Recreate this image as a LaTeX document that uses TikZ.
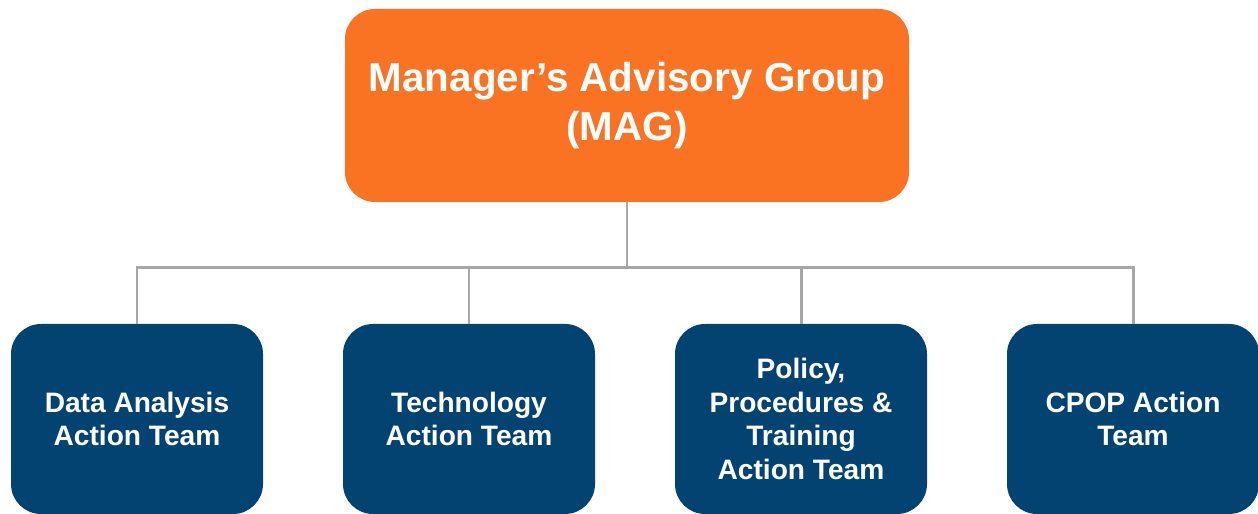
\documentclass[tikz,border=0pt]{standalone}
\usepackage{fontspec}
\setmainfont{Liberation Sans}
\definecolor{magorange}{RGB}{249,115,34}
\definecolor{teamblue}{RGB}{3,67,114}
\definecolor{linkgray}{RGB}{166,166,166}
\begin{document}
\begin{tikzpicture}[node distance={6.64cm}, font=\bfseries,
    main/.style = {fill=magorange, text=white, rounded corners=0.6cm, align=center, minimum width=11.28cm, minimum height=3.86cm, inner sep=0pt, font=\bfseries\fontsize{23}{28}\selectfont},
    team/.style = {fill=teamblue, text=white, rounded corners=0.6cm, align=center, minimum width=5.04cm, minimum height=3.8cm, inner sep=0pt, font=\bfseries\fontsize{16}{19}\selectfont},
    link/.style = {draw=linkgray, line width=1.7pt}]
    \useasboundingbox (0,0) rectangle (25.16,10.28);
    \node[main] (0) at (12.54,8.17)         {Manager’s Advisory Group\\(MAG)};
    \node[team] (1) at (2.74,1.9)           {Data Analysis\\Action Team};
    \node[team] (2) [right of=1]            {Technology\\Action Team};
    \node[team] (3) [right of=2]            {Policy,\\Procedures \&\\Training\\Action Team};
    \node[team] (4) [right of=3]            {CPOP Action\\Team};

    \foreach \i in {1,...,4}
        \draw[link] (0.south) -- ++(0,-1.3) -| (\i.north);
\end{tikzpicture}
\end{document}
